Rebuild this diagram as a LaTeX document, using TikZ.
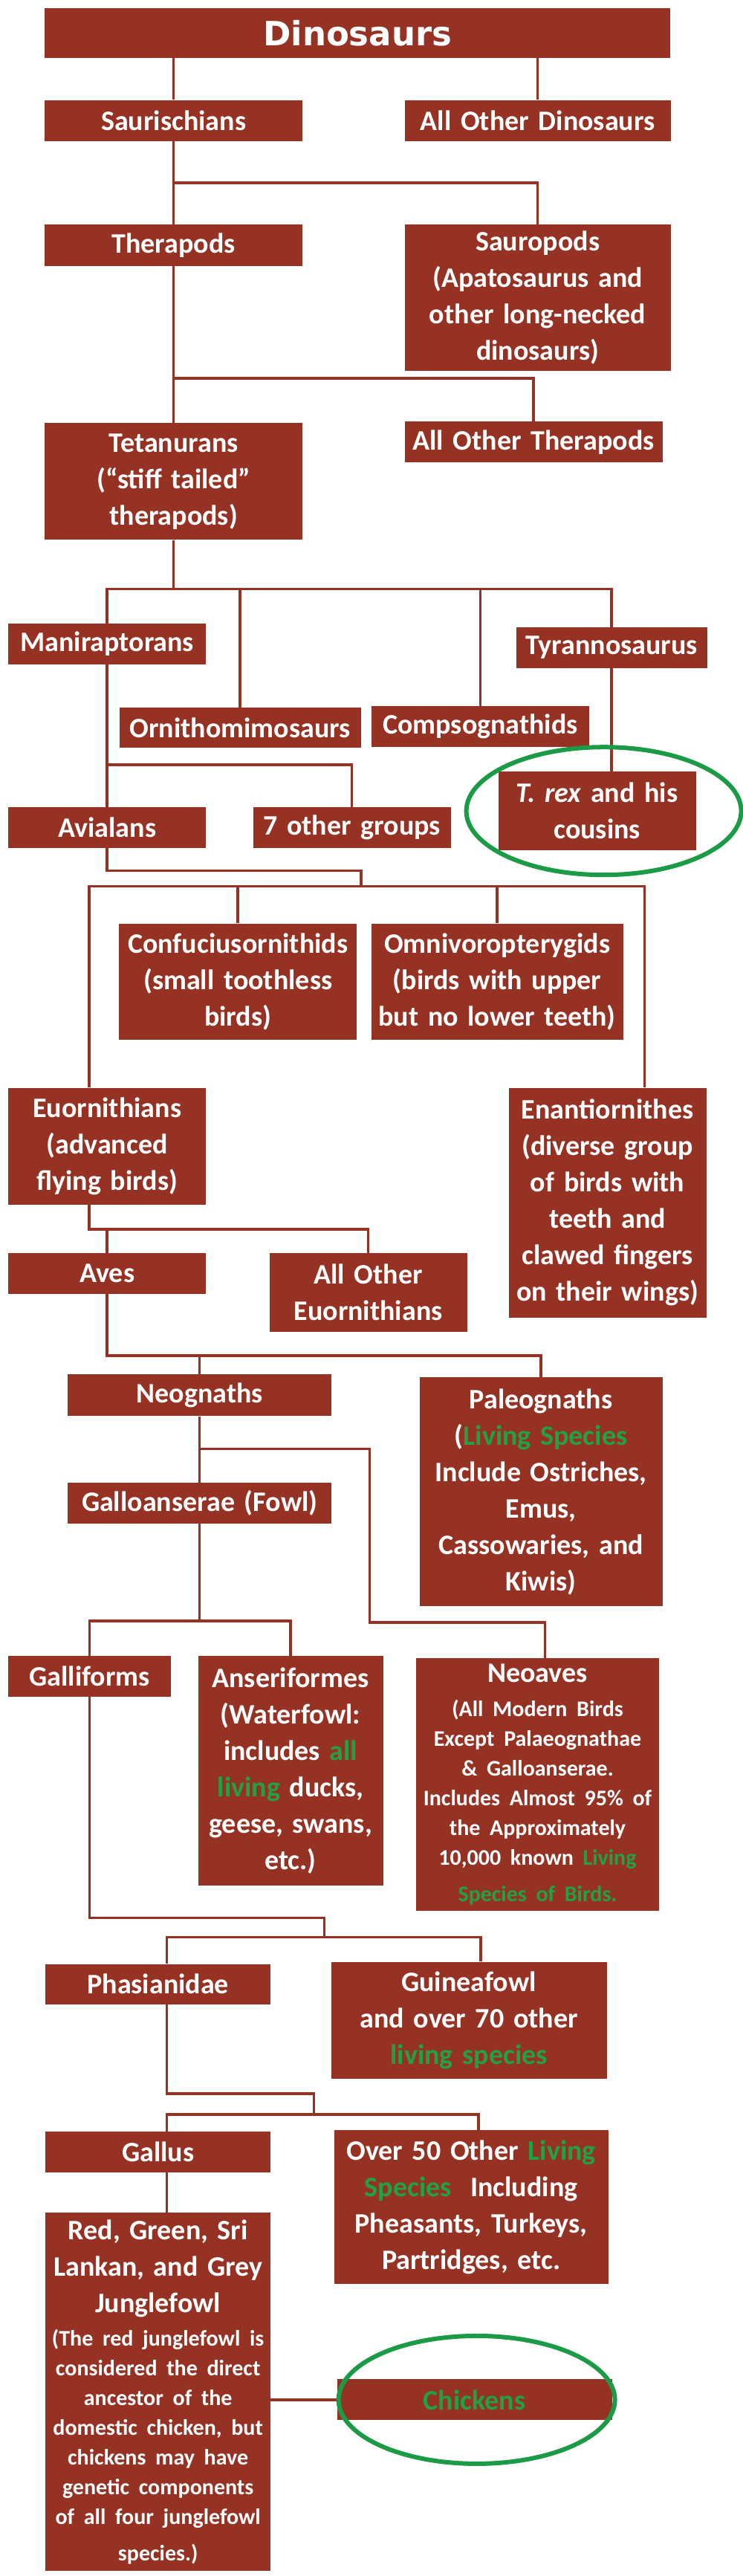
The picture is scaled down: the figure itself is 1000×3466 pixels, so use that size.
\documentclass[tikz,border=0pt]{standalone}
\usepackage{fontspec}
\setmainfont{Carlito}
\newfontfamily\titlefont{DejaVu Sans}
\usepackage{xcolor}
\usepackage{tikz}
\usetikzlibrary{positioning,calc}
\definecolor{boxred}{RGB}{150,50,36}
\definecolor{livegreen}{RGB}{34,160,70}
\definecolor{ringgreen}{RGB}{28,155,70}
\newcommand{\live}[1]{\textcolor{livegreen}{#1}}
\newcommand{\smalltxt}{\fontsize{30}{40}\selectfont}

\begin{document}
\begin{tikzpicture}[
  taxon/.style={rectangle, fill=boxred, text=white, align=center, inner sep=0pt,
                font=\fontsize{38}{49}\selectfont\bfseries},
  link/.style={draw=boxred, line width=3.5pt},
  ring/.style={draw=ringgreen, line width=6pt},
]
\useasboundingbox (0,0) rectangle (1000pt,-3466pt);

\node[taxon, anchor=north west, text width=842pt, minimum height=67pt,
  font=\titlefont\fontsize{45}{54}\selectfont\bfseries] (dino) at (60pt,-11pt) {Dinosaurs};
\node[taxon, text width=347pt, minimum height=55pt, below right=56pt and 0pt of dino.south west] (saur) {Saurischians};
\node[taxon, text width=358pt, minimum height=55pt, below right=0pt and 137pt of saur.north east] (aod) {All Other Dinosaurs};
\node[taxon, text width=347pt, minimum height=56pt, below right=112pt and 0pt of saur.south west] (thera) {Therapods};
\node[taxon, text width=358pt, minimum height=197pt, below right=0pt and 137pt of thera.north east] (sauro) {Sauropods\\(Apatosaurus and\\other long-necked\\dinosaurs)};
\node[taxon, text width=347pt, minimum height=157pt, below right=211pt and 0pt of thera.south west] (tetan) {Tetanurans\\(“stiff tailed”\\therapods)};
\node[taxon, text width=347pt, minimum height=55pt, below right=-2pt and 137pt of tetan.north east] (aot) {All Other Therapods};
\node[taxon, text width=266pt, minimum height=55pt, below right=112pt and -49pt of tetan.south west] (manir) {Maniraptorans};
\node[taxon, text width=325pt, minimum height=54pt, below right=58pt and -117pt of manir.south east] (ornith) {Ornithomimosaurs};
\node[taxon, text width=293pt, minimum height=55pt, below right=-2pt and 14pt of ornith.north east] (compso) {Compsognathids};
\node[taxon, text width=257pt, minimum height=55pt, below right=5pt and 417pt of manir.north east] (tyran) {Tyrannosaurus};
\node[taxon, text width=266pt, minimum height=106pt, below right=139pt and -24pt of tyran.south west] (trex) {\textit{T. rex} and his\\cousins};
\node[taxon, text width=266pt, minimum height=55pt, below right=192pt and 0pt of manir.south west] (avial) {Avialans};
\node[taxon, text width=266pt, minimum height=55pt, below right=0pt and 63pt of avial.north east] (seven) {7 other groups};
\node[taxon, text width=320pt, minimum height=156pt, below right=101pt and 149pt of avial.south west] (confu) {Confuciusornithids\\(small toothless\\birds)};
\node[taxon, text width=339pt, minimum height=156pt, below right=0pt and 19pt of confu.north east] (omniv) {Omnivoropterygids\\(birds with upper\\but no lower teeth)};
\node[taxon, text width=266pt, minimum height=157pt, below right=322pt and 0pt of avial.south west] (euorn) {Euornithians\\(advanced\\flying birds)};
\node[taxon, text width=266pt, minimum height=309pt, below right=0pt and 407pt of euorn.north east] (enant) {Enantiornithes\\(diverse group\\of birds with\\teeth and\\clawed fingers\\on their wings)};
\node[taxon, text width=266pt, minimum height=55pt, below right=65pt and 0pt of euorn.south west] (aves) {Aves};
\node[taxon, text width=266pt, minimum height=106pt, below right=0pt and 85pt of aves.north east] (aoeu) {All Other\\Euornithians};
\node[taxon, text width=355pt, minimum height=56pt, below right=108pt and 80pt of aves.south west] (neogn) {Neognaths};
\node[taxon, text width=327pt, minimum height=308pt, below right=4pt and 118pt of neogn.north east] (paleo) {Paleognaths\\(\live{Living Species}\\Include Ostriches,\\Emus,\\Cassowaries, and\\Kiwis)};
\node[taxon, text width=355pt, minimum height=55pt, below right=89pt and 0pt of neogn.south west] (gallo) {Galloanserae (Fowl)};
\node[taxon, text width=219pt, minimum height=55pt, below right=178pt and -80pt of gallo.south west] (galli) {Galliforms};
\node[taxon, text width=249pt, minimum height=309pt, below right=0pt and 36pt of galli.north east] (anser) {Anseriformes\\(Waterfowl:\\includes \live{all}\\\live{living} ducks,\\geese, swans,\\etc.)};
\node[taxon, text width=327pt, minimum height=340pt, below right=3pt and 44pt of anser.north east] (neoav) {Neoaves\par\vspace{6pt}\smalltxt (All Modern Birds\\Except Palaeognathae\\\& Galloanserae.\\Includes Almost 95\% of\\the Approximately\\10,000 known \live{Living}\\\live{Species of Birds.}};
\node[taxon, text width=303pt, minimum height=54pt, below right=359pt and 50pt of galli.south west] (phasi) {Phasianidae};
\node[taxon, text width=371pt, minimum height=157pt, below right=-3pt and 81pt of phasi.north east] (guine) {Guineafowl\\and over 70 other\\\live{living species}};
\node[taxon, text width=303pt, minimum height=55pt, below right=171pt and 0pt of phasi.south west] (gallus) {Gallus};
\node[taxon, text width=369pt, minimum height=207pt, below right=-2pt and 85pt of gallus.north east] (over50) {Over 50 Other \live{Living}\\\live{Species}~ Including\\Pheasants, Turkeys,\\Partridges, etc.};
\node[taxon, text width=303pt, minimum height=482pt, below right=54pt and 0pt of gallus.south west] (jungle) {Red, Green, Sri\\Lankan, and Grey\\Junglefowl\par\vspace{5pt}\smalltxt (The red junglefowl is\\considered the direct\\ancestor of the\\domestic chicken, but\\chickens may have\\genetic components\\of all four junglefowl\\species.)};
\node[taxon, text width=370pt, minimum height=55pt, below right=224pt and 89pt of jungle.north east] (chick) {\live{Chickens}};

% branch points
\coordinate[below=56pt of saur.south] (fork1);
\coordinate[below=151pt of thera.south] (fork2);
\coordinate[below=66pt of tetan.south] (fork3);
\coordinate[below=135pt of manir.south] (fork4);
\coordinate[below right=30pt and 342pt of avial.south] (bend5);
\coordinate[below right=51pt and 342pt of avial.south] (fork5);
\coordinate[below=33pt of euorn.south] (fork6);
\coordinate[below=83pt of aves.south] (fork7);
\coordinate[below=44pt of neogn.south] (fork8);
\coordinate[below right=133pt and 229pt of gallo.south] (bend9);
\coordinate[below=131pt of gallo.south] (fork10);
\coordinate[below right=297pt and 316pt of galli.south] (bend11);
\coordinate[below right=323pt and 316pt of galli.south] (fork11);
\coordinate[below right=120pt and 210pt of phasi.south] (bend12);
\coordinate[below right=148pt and 210pt of phasi.south] (fork12);

\draw[link] (saur.north) -- (saur.north |- dino.south);
\draw[link] (aod.north) -- (aod.north |- dino.south);
\draw[link] (saur.south) -- (thera.north);
\draw[link] (fork1) -| (sauro.north);
\draw[link] (thera.south) -- (tetan.north);
\draw[link] (fork2) -| (aot.north);
\draw[link] (tetan.south) -- (fork3);
\draw[link] (manir.north) |- (fork3) -| (tyran.north);
\draw[link] (ornith.north) -- (ornith.north |- fork3);
\draw[link] (compso.north) -- (compso.north |- fork3);
\draw[link] (tyran.south) -- (tyran.south |- trex.north);
\draw[link] (manir.south) -- (avial.north);
\draw[link] (fork4) -| (seven.north);
\draw[link] (avial.south) |- (bend5) -- (fork5);
\draw[link] ([xshift=-24pt]euorn.north) |- (fork5) -| ([xshift=50pt]enant.north);
\draw[link] (confu.north) -- (confu.north |- fork5);
\draw[link] (omniv.north) -- (omniv.north |- fork5);
\draw[link] ([xshift=-24pt]euorn.south) |- (fork6) -| (aoeu.north);
\draw[link] (aves.north) -- (aves.north |- fork6);
\draw[link] (aves.south) -- (fork7) -| (paleo.north);
\draw[link] (neogn.north) -- (neogn.north |- fork7);
\draw[link] (neogn.south) -- (gallo.north);
\draw[link] (fork8) -| (bend9) -| ([xshift=10pt]neoav.north);
\draw[link] (gallo.south) -- (fork10);
\draw[link] (galli.north) |- (fork10) -| (anser.north);
\draw[link] (galli.south) |- (bend11) -- (fork11);
\draw[link] ([xshift=12pt]phasi.north) |- (fork11) -| ([xshift=16pt]guine.north);
\draw[link] ([xshift=12pt]phasi.south) |- (bend12) -- (fork12);
\draw[link] ([xshift=12pt]gallus.north) |- (fork12) -| ([xshift=10pt]over50.north);
\draw[link] ([xshift=12pt]gallus.south) -- ([xshift=12pt]jungle.north);
\draw[link] (chick.west -| jungle.east) -- (chick.west);

% highlight rings
\draw[ring] ([xshift=9pt]trex.center) ellipse [x radius=185pt, y radius=86pt];
\draw[ring] ([xshift=3pt]chick.center) ellipse [x radius=186pt, y radius=86pt];
\end{tikzpicture}
\end{document}
